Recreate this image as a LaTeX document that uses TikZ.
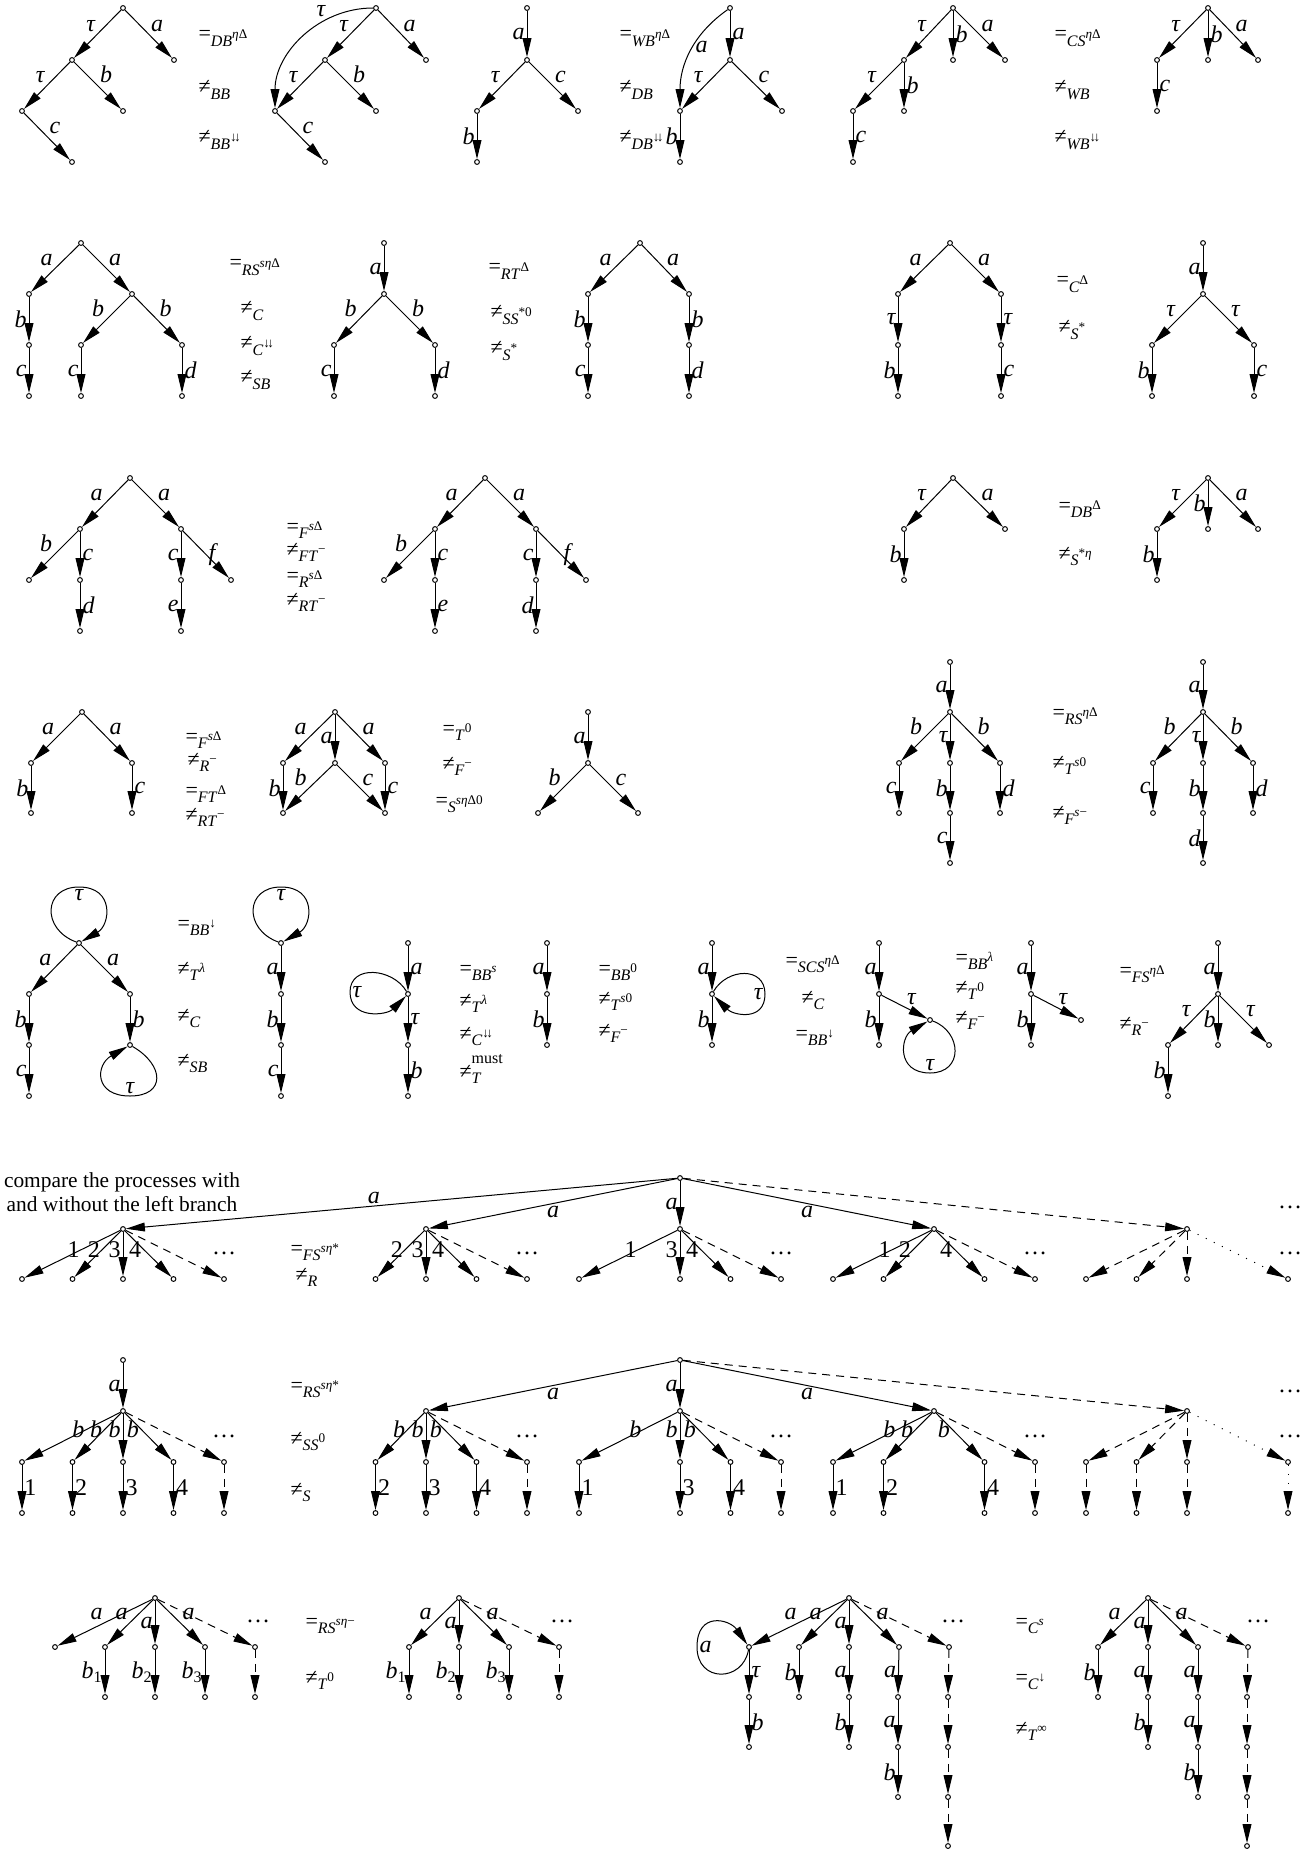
\documentclass[tikz,border=0pt]{standalone}
\usepackage{fontspec}
\setmainfont{Liberation Serif}
\usetikzlibrary{arrows.meta}

\newcommand{\rsub}[1]{\raisebox{-0.55ex}{\fontsize{8}{9}\selectfont #1}}
\newcommand{\rsup}[1]{\raisebox{1.05ex}{\fontsize{6.6}{7}\selectfont #1}}
\newcommand{\req}[2]{=\rsub{\textit{#1}\rsup{#2}}}
\newcommand{\rne}[2]{≠\rsub{\textit{#1}\rsup{#2}}}
\newcommand{\da}{↓}
\newcommand{\dv}{↓\kern-0.2em↓}

\begin{document}
\begin{tikzpicture}[x=0.5pt, y=-0.5pt, line width=0.5pt,
    every node/.append style={font=\fontsize{12}{14}\selectfont},
    st/.style={circle, draw, fill=white, inner sep=0pt, minimum size=2.4pt},
    tr/.style={-{Triangle[length=9.5pt, width=4.4pt]}},
    lb/.style={font=\fontsize{12}{14}\selectfont\itshape, inner sep=1pt},
    num/.style={inner sep=1pt},
    rel/.style={anchor=base west, inner sep=0pt, yshift=-1pt,
      font=\fontsize{11}{13}\selectfont},
    dsh/.style={dash pattern=on 4pt off 3pt},
    dtd/.style={dash pattern=on 0.5pt off 4pt}]
\useasboundingbox (0,0) rectangle (1310,1856);

% ---- row 1 ----
\node[st] (aa0) at (123,8) {};
\node[st] (aa1) at (72,60) {};
\node[st] (aa2) at (174,60) {};
\node[st] (aa3) at (22,111) {};
\node[st] (aa4) at (123,111) {};
\node[st] (aa5) at (72,162) {};
\draw[tr] (aa0) -- node[lb, above left] {τ} (aa1);
\draw[tr] (aa0) -- node[lb, above right] {a} (aa2);
\draw[tr] (aa1) -- node[lb, above left] {τ} (aa3);
\draw[tr] (aa1) -- node[lb, above right] {b} (aa4);
\draw[tr] (aa3) -- node[lb, above right] {c} (aa5);
\node[rel] (ra1) at (198,39) {\req{DB}{\textit{η}Δ}};
\node[rel] (ra2) at (198,92) {\rne{BB}{}};
\node[rel] (ra3) at (198,142) {\rne{BB}{\dv}};

\node[st] (ab0) at (376,8) {};
\node[st] (ab1) at (325,60) {};
\node[st] (ab2) at (426,60) {};
\node[st] (ab3) at (275,111) {};
\node[st] (ab4) at (376,111) {};
\node[st] (ab5) at (325,162) {};
\draw[tr] (ab0) -- node[lb, above left] {τ} (ab1);
\draw[tr] (ab0) -- node[lb, above right] {a} (ab2);
\draw[tr] (ab1) -- node[lb, above left] {τ} (ab3);
\draw[tr] (ab1) -- node[lb, above right] {b} (ab4);
\draw[tr] (ab3) -- node[lb, above right] {c} (ab5);
\draw[tr] (ab0) to[out=180, in=90] node[lb, pos=.3, above left] {τ} (ab3);

\node[st] (ac0) at (527,8) {};
\node[st] (ac1) at (527,60) {};
\node[st] (ac2) at (477,111) {};
\node[st] (ac3) at (578,111) {};
\node[st] (ac4) at (477,162) {};
\draw[tr] (ac0) -- node[lb, left] {a} (ac1);
\draw[tr] (ac1) -- node[lb, above left] {τ} (ac2);
\draw[tr] (ac1) -- node[lb, above right] {c} (ac3);
\draw[tr] (ac2) -- node[lb, left] {b} (ac4);
\node[rel] (rb1) at (619,39) {\req{WB}{\textit{η}Δ}};
\node[rel] (rb2) at (619,92) {\rne{DB}{}};
\node[rel] (rb3) at (619,142) {\rne{DB}{\dv}};

\node[st] (ad0) at (730,8) {};
\node[st] (ad1) at (730,60) {};
\node[st] (ad2) at (680,111) {};
\node[st] (ad3) at (782,111) {};
\node[st] (ad4) at (680,162) {};
\draw[tr] (ad0) -- node[lb, right] {a} (ad1);
\draw[tr] (ad1) -- node[lb, above left] {τ} (ad2);
\draw[tr] (ad1) -- node[lb, above right] {c} (ad3);
\draw[tr] (ad2) -- node[lb, left] {b} (ad4);
\draw[tr] (ad0) to[out=215, in=90] node[lb, pos=.45, right] {a} (ad2);

\node[st] (ae0) at (953,8) {};
\node[st] (ae1) at (904,60) {};
\node[st] (ae2) at (953,60) {};
\node[st] (ae3) at (1005,60) {};
\node[st] (ae4) at (853,111) {};
\node[st] (ae5) at (904,111) {};
\node[st] (ae6) at (853,162) {};
\draw[tr] (ae0) -- node[lb, above left] {τ} (ae1);
\draw[tr] (ae0) -- node[lb, right] {b} (ae2);
\draw[tr] (ae0) -- node[lb, above right] {a} (ae3);
\draw[tr] (ae1) -- node[lb, above left] {τ} (ae4);
\draw[tr] (ae1) -- node[lb, right] {b} (ae5);
\draw[tr] (ae4) -- node[lb, right] {c} (ae6);
\node[rel] (rc1) at (1054,39) {\req{CS}{\textit{η}Δ}};
\node[rel] (rc2) at (1054,92) {\rne{WB}{}};
\node[rel] (rc3) at (1054,142) {\rne{WB}{\dv}};

\node[st] (af0) at (1208,8) {};
\node[st] (af1) at (1157,60) {};
\node[st] (af2) at (1208,60) {};
\node[st] (af3) at (1258,60) {};
\node[st] (af4) at (1157,111) {};
\draw[tr] (af0) -- node[lb, above left] {τ} (af1);
\draw[tr] (af0) -- node[lb, right] {b} (af2);
\draw[tr] (af0) -- node[lb, above right] {a} (af3);
\draw[tr] (af1) -- node[lb, right] {c} (af4);

% ---- row 2 ----
\node[st] (ba0) at (81,243) {};
\node[st] (ba1) at (29,294) {};
\node[st] (ba2) at (132,294) {};
\node[st] (ba3) at (29,345) {};
\node[st] (ba4) at (81,345) {};
\node[st] (ba5) at (182,345) {};
\node[st] (ba6) at (29,396) {};
\node[st] (ba7) at (81,396) {};
\node[st] (ba8) at (182,396) {};
\draw[tr] (ba0) -- node[lb, above left] {a} (ba1);
\draw[tr] (ba0) -- node[lb, above right] {a} (ba2);
\draw[tr] (ba1) -- node[lb, left] {b} (ba3);
\draw[tr] (ba2) -- node[lb, above left] {b} (ba4);
\draw[tr] (ba2) -- node[lb, above right] {b} (ba5);
\draw[tr] (ba3) -- node[lb, left] {c} (ba6);
\draw[tr] (ba4) -- node[lb, left] {c} (ba7);
\draw[tr] (ba5) -- node[lb, right] {d} (ba8);
\node[rel] (rd1) at (229,268) {\req{RS}{\textit{sη}Δ}};
\node[rel] (rd2) at (240,313) {\rne{C}{}};
\node[rel] (rd3) at (240,348) {\rne{C}{\dv}};
\node[rel] (rd4) at (240,382) {\rne{SB}{}};

\node[st] (bb0) at (384,243) {};
\node[st] (bb1) at (384,294) {};
\node[st] (bb2) at (334,345) {};
\node[st] (bb3) at (435,345) {};
\node[st] (bb4) at (334,396) {};
\node[st] (bb5) at (435,396) {};
\draw[tr] (bb0) -- node[lb, left] {a} (bb1);
\draw[tr] (bb1) -- node[lb, above left] {b} (bb2);
\draw[tr] (bb1) -- node[lb, above right] {b} (bb3);
\draw[tr] (bb2) -- node[lb, left] {c} (bb4);
\draw[tr] (bb3) -- node[lb, right] {d} (bb5);
\node[rel] (re1) at (488,272) {\req{RT}{Δ}};
\node[rel] (re2) at (490,317) {\rne{SS}{*0}};
\node[rel] (re3) at (490,353) {\rne{S}{*}};

\node[st] (bc0) at (640,243) {};
\node[st] (bc1) at (588,294) {};
\node[st] (bc2) at (689,294) {};
\node[st] (bc3) at (588,345) {};
\node[st] (bc4) at (588,396) {};
\node[st] (bc5) at (689,345) {};
\node[st] (bc6) at (689,396) {};
\draw[tr] (bc0) -- node[lb, above left] {a} (bc1);
\draw[tr] (bc0) -- node[lb, above right] {a} (bc2);
\draw[tr] (bc1) -- node[lb, left] {b} (bc3);
\draw[tr] (bc3) -- node[lb, left] {c} (bc4);
\draw[tr] (bc2) -- node[lb, right] {b} (bc5);
\draw[tr] (bc5) -- node[lb, right] {d} (bc6);

\node[st] (bd0) at (950,243) {};
\node[st] (bd1) at (898,294) {};
\node[st] (bd2) at (1001,294) {};
\node[st] (bd3) at (898,345) {};
\node[st] (bd4) at (898,396) {};
\node[st] (bd5) at (1001,345) {};
\node[st] (bd6) at (1001,396) {};
\draw[tr] (bd0) -- node[lb, above left] {a} (bd1);
\draw[tr] (bd0) -- node[lb, above right] {a} (bd2);
\draw[tr] (bd1) -- node[lb, left] {τ} (bd3);
\draw[tr] (bd3) -- node[lb, left] {b} (bd4);
\draw[tr] (bd2) -- node[lb, right] {τ} (bd5);
\draw[tr] (bd5) -- node[lb, right] {c} (bd6);
\node[rel] (rf1) at (1056,285) {\req{C}{Δ}};
\node[rel] (rf2) at (1058,332) {\rne{S}{*}};

\node[st] (be0) at (1203,243) {};
\node[st] (be1) at (1203,294) {};
\node[st] (be2) at (1152,345) {};
\node[st] (be3) at (1254,345) {};
\node[st] (be4) at (1152,396) {};
\node[st] (be5) at (1254,396) {};
\draw[tr] (be0) -- node[lb, left] {a} (be1);
\draw[tr] (be1) -- node[lb, above left] {τ} (be2);
\draw[tr] (be1) -- node[lb, above right] {τ} (be3);
\draw[tr] (be2) -- node[lb, left] {b} (be4);
\draw[tr] (be3) -- node[lb, right] {c} (be5);

% ---- row 3 ----
\node[st] (ca0) at (130,478) {};
\node[st] (ca1) at (80,529) {};
\node[st] (ca2) at (181,529) {};
\node[st] (ca3) at (29,580) {};
\node[st] (ca4) at (80,580) {};
\node[st] (ca5) at (181,580) {};
\node[st] (ca6) at (231,580) {};
\node[st] (ca7) at (80,631) {};
\node[st] (ca8) at (181,631) {};
\draw[tr] (ca0) -- node[lb, above left] {a} (ca1);
\draw[tr] (ca0) -- node[lb, above right] {a} (ca2);
\draw[tr] (ca1) -- node[lb, above left] {b} (ca3);
\draw[tr] (ca1) -- node[lb, right] {c} (ca4);
\draw[tr] (ca2) -- node[lb, left] {c} (ca5);
\draw[tr] (ca2) -- node[lb, right] {f} (ca6);
\draw[tr] (ca4) -- node[lb, right] {d} (ca7);
\draw[tr] (ca5) -- node[lb, left] {e} (ca8);
\node[rel] (rg1) at (286,531) {\req{F}{\textit{s}Δ}};
\node[rel] (rg2) at (286,554) {\rne{FT}{−}};
\node[rel] (rg3) at (286,580) {\req{R}{\textit{s}Δ}};
\node[rel] (rg4) at (286,604) {\rne{RT}{−}};

\node[st] (cb0) at (485,478) {};
\node[st] (cb1) at (435,529) {};
\node[st] (cb2) at (536,529) {};
\node[st] (cb3) at (384,580) {};
\node[st] (cb4) at (435,580) {};
\node[st] (cb5) at (536,580) {};
\node[st] (cb6) at (586,580) {};
\node[st] (cb7) at (435,631) {};
\node[st] (cb8) at (536,631) {};
\draw[tr] (cb0) -- node[lb, above left] {a} (cb1);
\draw[tr] (cb0) -- node[lb, above right] {a} (cb2);
\draw[tr] (cb1) -- node[lb, above left] {b} (cb3);
\draw[tr] (cb1) -- node[lb, right] {c} (cb4);
\draw[tr] (cb2) -- node[lb, left] {c} (cb5);
\draw[tr] (cb2) -- node[lb, right] {f} (cb6);
\draw[tr] (cb4) -- node[lb, right] {e} (cb7);
\draw[tr] (cb5) -- node[lb, left] {d} (cb8);

\node[st] (cc0) at (953,478) {};
\node[st] (cc1) at (904,529) {};
\node[st] (cc2) at (1005,529) {};
\node[st] (cc3) at (904,580) {};
\draw[tr] (cc0) -- node[lb, above left] {τ} (cc1);
\draw[tr] (cc0) -- node[lb, above right] {a} (cc2);
\draw[tr] (cc1) -- node[lb, left] {b} (cc3);
\node[rel] (rh1) at (1058,510) {\req{DB}{Δ}};
\node[rel] (rh2) at (1058,558) {\rne{S}{*\textit{η}}};

\node[st] (cd0) at (1208,478) {};
\node[st] (cd1) at (1157,529) {};
\node[st] (cd2) at (1208,529) {};
\node[st] (cd3) at (1258,529) {};
\node[st] (cd4) at (1157,580) {};
\draw[tr] (cd0) -- node[lb, above left] {τ} (cd1);
\draw[tr] (cd0) -- node[lb, left] {b} (cd2);
\draw[tr] (cd0) -- node[lb, above right] {a} (cd3);
\draw[tr] (cd1) -- node[lb, left] {b} (cd4);

% ---- row 4 ----
\node[st] (da0) at (82,712) {};
\node[st] (da1) at (31,763) {};
\node[st] (da2) at (132,763) {};
\node[st] (da3) at (31,813) {};
\node[st] (da4) at (132,813) {};
\draw[tr] (da0) -- node[lb, above left] {a} (da1);
\draw[tr] (da0) -- node[lb, above right] {a} (da2);
\draw[tr] (da1) -- node[lb, left] {b} (da3);
\draw[tr] (da2) -- node[lb, right] {c} (da4);
\node[rel] (ri1) at (185,741) {\req{F}{\textit{s}Δ}};
\node[rel] (ri2) at (187,764) {\rne{R}{−}};
\node[rel] (ri3) at (185,795) {\req{FT}{Δ}};
\node[rel] (ri4) at (185,819) {\rne{RT}{−}};

\node[st] (db0) at (335,712) {};
\node[st] (db1) at (283,763) {};
\node[st] (db2) at (335,763) {};
\node[st] (db3) at (385,763) {};
\node[st] (db4) at (283,813) {};
\node[st] (db5) at (385,813) {};
\draw[tr] (db0) -- node[lb, above left] {a} (db1);
\draw[tr] (db0) -- node[lb, left] {a} (db2);
\draw[tr] (db0) -- node[lb, above right] {a} (db3);
\draw[tr] (db1) -- node[lb, left] {b} (db4);
\draw[tr] (db2) -- node[lb, above left] {b} (db4);
\draw[tr] (db2) -- node[lb, above right] {c} (db5);
\draw[tr] (db3) -- node[lb, right] {c} (db5);
\node[rel] (rj1) at (442,733) {\req{T}{0}};
\node[rel] (rj2) at (442,768) {\rne{F}{−}};
\node[rel] (rj3) at (435,805) {\req{S}{\textit{sη}Δ0}};

\node[st] (dc0) at (588,712) {};
\node[st] (dc1) at (588,763) {};
\node[st] (dc2) at (538,813) {};
\node[st] (dc3) at (638,813) {};
\draw[tr] (dc0) -- node[lb, left] {a} (dc1);
\draw[tr] (dc1) -- node[lb, above left] {b} (dc2);
\draw[tr] (dc1) -- node[lb, above right] {c} (dc3);

\node[st] (dd0) at (950,662) {};
\node[st] (dd1) at (950,712) {};
\node[st] (dd2) at (899,763) {};
\node[st] (dd3) at (950,763) {};
\node[st] (dd4) at (1000,763) {};
\node[st] (dd5) at (899,813) {};
\node[st] (dd6) at (950,813) {};
\node[st] (dd7) at (1000,813) {};
\node[st] (dd8) at (950,863) {};
\draw[tr] (dd0) -- node[lb, left] {a} (dd1);
\draw[tr] (dd1) -- node[lb, above left] {b} (dd2);
\draw[tr] (dd1) -- node[lb, left] {τ} (dd3);
\draw[tr] (dd1) -- node[lb, above right] {b} (dd4);
\draw[tr] (dd2) -- node[lb, left] {c} (dd5);
\draw[tr] (dd3) -- node[lb, left] {b} (dd6);
\draw[tr] (dd4) -- node[lb, right] {d} (dd7);
\draw[tr] (dd6) -- node[lb, left] {c} (dd8);
\node[rel] (rk1) at (1052,717) {\req{RS}{\textit{η}Δ}};
\node[rel] (rk2) at (1052,767) {\rne{T}{\textit{s}0}};
\node[rel] (rk3) at (1052,817) {\rne{F}{\textit{s}−}};

\node[st] (de0) at (1203,662) {};
\node[st] (de1) at (1203,712) {};
\node[st] (de2) at (1153,763) {};
\node[st] (de3) at (1203,763) {};
\node[st] (de4) at (1253,763) {};
\node[st] (de5) at (1153,813) {};
\node[st] (de6) at (1203,813) {};
\node[st] (de7) at (1253,813) {};
\node[st] (de8) at (1203,863) {};
\draw[tr] (de0) -- node[lb, left] {a} (de1);
\draw[tr] (de1) -- node[lb, above left] {b} (de2);
\draw[tr] (de1) -- node[lb, left] {τ} (de3);
\draw[tr] (de1) -- node[lb, above right] {b} (de4);
\draw[tr] (de2) -- node[lb, left] {c} (de5);
\draw[tr] (de3) -- node[lb, left] {b} (de6);
\draw[tr] (de4) -- node[lb, right] {d} (de7);
\draw[tr] (de6) -- node[lb, left] {d} (de8);

% ---- row 5 ----
\node[st] (ea0) at (79,943) {};
\coordinate (ea0t) at (79,887);
\node[st] (ea1) at (29,994) {};
\node[st] (ea2) at (130,994) {};
\node[st] (ea3) at (29,1045) {};
\node[st] (ea4) at (130,1045) {};
\coordinate (ea4b) at (130,1096);
\node[st] (ea5) at (29,1096) {};
\draw[tr] (ea0) .. controls +(200:40) and +(180:36) .. (ea0t) node[lb, below] {τ}
  .. controls +(0:36) and +(330:36) .. (ea0);
\draw[tr] (ea0) -- node[lb, above left] {a} (ea1);
\draw[tr] (ea0) -- node[lb, above right] {a} (ea2);
\draw[tr] (ea1) -- node[lb, left] {b} (ea3);
\draw[tr] (ea2) -- node[lb, right] {b} (ea4);
\draw[tr] (ea3) -- node[lb, left] {c} (ea5);
\draw[tr] (ea4) .. controls +(30:40) and +(0:36) .. (ea4b) node[lb, above] {τ}
  .. controls +(180:36) and +(150:40) .. (ea4);
\node[rel] (rl1) at (177,928) {\req{BB}{\da}};
\node[rel] (rl2) at (177,973) {\rne{T}{\textit{λ}}};
\node[rel] (rl3) at (177,1020) {\rne{C}{}};
\node[rel] (rl4) at (177,1065) {\rne{SB}{}};

\node[st] (eb0) at (281,943) {};
\coordinate (eb0t) at (281,887);
\node[st] (eb1) at (281,994) {};
\node[st] (eb2) at (281,1045) {};
\node[st] (eb3) at (281,1096) {};
\draw[tr] (eb0) .. controls +(200:40) and +(180:36) .. (eb0t) node[lb, below] {τ}
  .. controls +(0:36) and +(330:36) .. (eb0);
\draw[tr] (eb0) -- node[lb, left] {a} (eb1);
\draw[tr] (eb1) -- node[lb, left] {b} (eb2);
\draw[tr] (eb2) -- node[lb, left] {c} (eb3);

\node[st] (ec0) at (408,943) {};
\node[st] (ec1) at (408,994) {};
\coordinate (ec1l) at (350,992);
\node[st] (ec2) at (408,1045) {};
\node[st] (ec3) at (408,1096) {};
\draw[tr] (ec0) -- node[lb, right] {a} (ec1);
\draw[tr] (ec1) .. controls +(240:30) and +(270:28) .. (ec1l) node[lb, right] {τ}
  .. controls +(90:28) and +(135:30) .. (ec1);
\draw[tr] (ec1) -- node[lb, right] {τ} (ec2);
\draw[tr] (ec2) -- node[lb, right] {b} (ec3);
\node[rel] (rm1) at (459,973) {\req{BB}{\textit{s}}};
\node[rel] (rm2) at (459,1005) {\rne{T}{\textit{λ}}};
\node[rel] (rm3) at (459,1038) {\rne{C}{\dv}};
\node[rel] (rm4) at (459,1076)
  {≠\rlap{\raisebox{1.4ex}{\fontsize{8}{9}\selectfont must}}\rsub{\textit{T}}};

\node[st] (ed0) at (547,943) {};
\node[st] (ed1) at (547,994) {};
\node[st] (ed2) at (547,1045) {};
\draw[tr] (ed0) -- node[lb, left] {a} (ed1);
\draw[tr] (ed1) -- node[lb, left] {b} (ed2);
\node[rel] (rn1) at (598,973) {\req{BB}{0}};
\node[rel] (rn2) at (598,1003) {\rne{T}{\textit{s}0}};
\node[rel] (rn3) at (598,1035) {\rne{F}{−}};

\node[st] (ee0) at (712,943) {};
\node[st] (ee1) at (712,994) {};
\coordinate (ee1r) at (765,994);
\node[st] (ee2) at (712,1045) {};
\draw[tr] (ee0) -- node[lb, left] {a} (ee1);
\draw[tr] (ee1) .. controls +(300:30) and +(270:28) .. (ee1r) node[lb, left] {τ}
  .. controls +(90:28) and +(45:30) .. (ee1);
\draw[tr] (ee1) -- node[lb, left] {b} (ee2);
\node[rel] (ro1) at (785,965) {\req{SCS}{\textit{η}Δ}};
\node[rel] (ro2) at (801,1002) {\rne{C}{}};
\node[rel] (ro3) at (795,1038) {\req{BB}{\da}};

\node[st] (ef0) at (879,943) {};
\node[st] (ef1) at (879,994) {};
\node[st] (ef2) at (879,1045) {};
\node[st] (ef3) at (930,1020) {};
\coordinate (ef3b) at (930,1073);
\draw[tr] (ef0) -- node[lb, left] {a} (ef1);
\draw[tr] (ef1) -- node[lb, left] {b} (ef2);
\draw[tr] (ef1) -- node[lb, above right] {τ} (ef3);
\draw[tr] (ef3) .. controls +(20:34) and +(0:34) .. (ef3b) node[lb, above] {τ}
  .. controls +(180:34) and +(150:34) .. (ef3);
\node[rel] (rp1) at (955,962) {\req{BB}{\textit{λ}}};
\node[rel] (rp2) at (955,992) {\rne{T}{0}};
\node[rel] (rp3) at (955,1022) {\rne{F}{−}};

\node[st] (eg0) at (1031,943) {};
\node[st] (eg1) at (1031,994) {};
\node[st] (eg2) at (1031,1045) {};
\node[st] (eg3) at (1081,1020) {};
\draw[tr] (eg0) -- node[lb, left] {a} (eg1);
\draw[tr] (eg1) -- node[lb, left] {b} (eg2);
\draw[tr] (eg1) -- node[lb, above right] {τ} (eg3);
\node[rel] (rq1) at (1119,975) {\req{FS}{\textit{η}Δ}};
\node[rel] (rq2) at (1119,1028) {\rne{R}{−}};

\node[st] (eh0) at (1218,943) {};
\node[st] (eh1) at (1218,994) {};
\node[st] (eh2) at (1168,1045) {};
\node[st] (eh3) at (1218,1045) {};
\node[st] (eh4) at (1269,1045) {};
\node[st] (eh5) at (1168,1096) {};
\draw[tr] (eh0) -- node[lb, left] {a} (eh1);
\draw[tr] (eh1) -- node[lb, above left] {τ} (eh2);
\draw[tr] (eh1) -- node[lb, left] {b} (eh3);
\draw[tr] (eh1) -- node[lb, above right] {τ} (eh4);
\draw[tr] (eh2) -- node[lb, left] {b} (eh5);

% ---- row 6 ----
\node[align=center, font=\fontsize{10.7}{12}\selectfont] (cap) at (122,1192)
  {compare the processes with\\and without the left branch};
\node[st] (f0) at (680,1178) {};
\foreach \g/\x in {1/123, 2/426, 3/680, 4/934, 5/1187}
  \node[st] (f\g) at (\x,1229) {};
\draw[tr] (f0) -- node[lb, above, pos=.55] {a} (f1);
\draw[tr] (f0) -- node[lb, below] {a} (f2);
\draw[tr] (f0) -- node[lb, left] {a} (f3);
\draw[tr] (f0) -- node[lb, below] {a} (f4);
\draw[tr, dsh] (f0) -- (f5);
\foreach \g/\x/\ks in {1/123/{1,2,3,4}, 2/426/{2,3,4}, 3/680/{1,3,4}, 4/934/{1,2,4}} {
  \foreach \k in \ks {
    \node[st] (f\g l\k) at ({\x+50.5*(\k-3)},1279) {};
    \draw[tr] (f\g) -- node[num, left, pos=.4] {\k} (f\g l\k);
  }
  \node[st] (f\g l5) at ({\x+101},1279) {};
  \draw[tr, dsh] (f\g) -- (f\g l5);
  \node (f\g d) at ({\x+101},1253) {\dots};
}
\foreach \k/\dx in {1/-101, 2/-50.5, 3/0} {
  \node[st] (f5l\k) at ({1187+\dx},1279) {};
  \draw[tr, dsh] (f5) -- (f5l\k);
}
\node[st] (f5l5) at (1288,1279) {};
\draw[tr, dtd] (f5) -- (f5l5);
\node (f5d) at (1290,1253) {\dots};
\node (f0d) at (1290,1207) {\dots};
\node[rel] (rr1) at (290,1253) {\req{FS}{\textit{sη}*}};
\node[rel] (rr2) at (295,1279) {\rne{R}{}};

% ---- row 7 ----
\node[st] (ga0) at (123,1360) {};
\node[st] (ga1) at (123,1411) {};
\draw[tr] (ga0) -- node[lb, left] {a} (ga1);
\foreach \k in {1,...,4} {
  \node[st] (ga1\k) at ({123+50.5*(\k-3)},1462) {};
  \node[st] (ga2\k) at ({123+50.5*(\k-3)},1513) {};
  \draw[tr] (ga1) -- node[lb, left, pos=.35] {b} (ga1\k);
  \draw[tr] (ga1\k) -- node[num, right] {\k} (ga2\k);
}
\node[st] (ga15) at (224,1462) {};
\node[st] (ga25) at (224,1513) {};
\draw[tr, dsh] (ga1) -- (ga15);
\draw[tr, dsh] (ga15) -- (ga25);
\node (gad) at (224,1436) {\dots};
\node[rel] (rs1) at (290,1390) {\req{RS}{\textit{sη}*}};
\node[rel] (rs2) at (290,1443) {\rne{SS}{0}};
\node[rel] (rs3) at (290,1494) {\rne{S}{}};

\node[st] (g0) at (680,1360) {};
\foreach \g/\x in {1/426, 2/680, 3/934, 4/1187}
  \node[st] (g\g) at (\x,1411) {};
\draw[tr] (g0) -- node[lb, below] {a} (g1);
\draw[tr] (g0) -- node[lb, left] {a} (g2);
\draw[tr] (g0) -- node[lb, below] {a} (g3);
\draw[tr, dsh] (g0) -- (g4);
\node (g0d) at (1290,1391) {\dots};
\foreach \g/\x/\ks in {1/426/{2,3,4}, 2/680/{1,3,4}, 3/934/{1,2,4}} {
  \foreach \k in \ks {
    \node[st] (g\g a\k) at ({\x+50.5*(\k-3)},1462) {};
    \node[st] (g\g b\k) at ({\x+50.5*(\k-3)},1513) {};
    \draw[tr] (g\g) -- node[lb, left, pos=.35] {b} (g\g a\k);
    \draw[tr] (g\g a\k) -- node[num, right] {\k} (g\g b\k);
  }
  \node[st] (g\g a5) at ({\x+101},1462) {};
  \node[st] (g\g b5) at ({\x+101},1513) {};
  \draw[tr, dsh] (g\g) -- (g\g a5);
  \draw[tr, dsh] (g\g a5) -- (g\g b5);
  \node (g\g d) at ({\x+101},1436) {\dots};
}
\foreach \k/\dx in {1/-101, 2/-50.5, 3/0} {
  \node[st] (g4a\k) at ({1187+\dx},1462) {};
  \node[st] (g4b\k) at ({1187+\dx},1513) {};
  \draw[tr, dsh] (g4) -- (g4a\k);
  \draw[tr, dsh] (g4a\k) -- (g4b\k);
}
\node[st] (g4a5) at (1288,1462) {};
\node[st] (g4b5) at (1288,1513) {};
\draw[tr, dtd] (g4) -- (g4a5);
\draw[tr, dtd] (g4a5) -- (g4b5);
\node (g4d) at (1290,1436) {\dots};

% ---- row 8 ----
\node[st] (ha0) at (155,1598) {};
\foreach \k in {1,...,5}
  \node[st] (ha\k) at ({155+50*(\k-3)},1647) {};
\draw[tr] (ha0) -- node[lb, above left] {a} (ha1);
\draw[tr] (ha0) -- node[lb, above left] {a} (ha2);
\draw[tr] (ha0) -- node[lb, left] {a} (ha3);
\draw[tr] (ha0) -- node[lb, above right] {a} (ha4);
\draw[tr, dsh] (ha0) -- (ha5);
\foreach \k/\i in {2/1, 3/2, 4/3} {
  \node[st] (hal\k) at ({155+50*(\k-3)},1697) {};
  \draw[tr] (ha\k) -- node[lb, left] {b\textsubscript{\upshape\i}} (hal\k);
}
\node[st] (hal5) at (255,1697) {};
\draw[tr, dsh] (ha5) -- (hal5);
\node (had) at (258,1621) {\dots};
\node[rel] (rt1) at (305,1626) {\req{RS}{\textit{sη}−}};
\node[rel] (rt2) at (305,1682) {\rne{T}{0}};

\node[st] (hb0) at (459,1598) {};
\foreach \k in {1,...,4}
  \node[st] (hb\k) at ({459+50*(\k-2)},1647) {};
\draw[tr] (hb0) -- node[lb, above left] {a} (hb1);
\draw[tr] (hb0) -- node[lb, left] {a} (hb2);
\draw[tr] (hb0) -- node[lb, above right] {a} (hb3);
\draw[tr, dsh] (hb0) -- (hb4);
\foreach \k in {1,2,3} {
  \node[st] (hbl\k) at ({459+50*(\k-2)},1697) {};
  \draw[tr] (hb\k) -- node[lb, left] {b\textsubscript{\upshape\k}} (hbl\k);
}
\node[st] (hbl4) at (559,1697) {};
\draw[tr, dsh] (hb4) -- (hbl4);
\node (hbd) at (562,1621) {\dots};

\node[st] (hc0) at (849,1598) {};
\foreach \k in {1,...,5}
  \node[st] (hc\k) at ({849+50*(\k-3)},1647) {};
\coordinate (hc1l) at (697,1647);
\draw[tr] (hc0) -- node[lb, above left] {a} (hc1);
\draw[tr] (hc0) -- node[lb, above left] {a} (hc2);
\draw[tr] (hc0) -- node[lb, left] {a} (hc3);
\draw[tr] (hc0) -- node[lb, above right] {a} (hc4);
\draw[tr, dsh] (hc0) -- (hc5);
\draw[tr] (hc1) .. controls +(100:36) and +(90:36) .. (hc1l) node[lb, right] {a}
  .. controls +(270:36) and +(235:34) .. (hc1);
\node[st] (hc1a) at (749,1697) {};
\node[st] (hc1b) at (749,1747) {};
\draw[tr] (hc1) -- node[lb, right] {τ} (hc1a);
\draw[tr] (hc1a) -- node[lb, right] {b} (hc1b);
\node[st] (hc2a) at (799,1697) {};
\draw[tr] (hc2) -- node[lb, left] {b} (hc2a);
\node[st] (hc3a) at (849,1697) {};
\node[st] (hc3b) at (849,1747) {};
\draw[tr] (hc3) -- node[lb, left] {a} (hc3a);
\draw[tr] (hc3a) -- node[lb, left] {b} (hc3b);
\node[st] (hc4a) at (898,1697) {};
\node[st] (hc4b) at (898,1747) {};
\node[st] (hc4c) at (898,1797) {};
\draw[tr] (hc4) -- node[lb, left] {a} (hc4a);
\draw[tr] (hc4a) -- node[lb, left] {a} (hc4b);
\draw[tr] (hc4b) -- node[lb, left] {b} (hc4c);
\node[st] (hc5a) at (948,1697) {};
\node[st] (hc5b) at (948,1747) {};
\node[st] (hc5c) at (948,1797) {};
\node[st] (hc5d) at (948,1846) {};
\draw[tr, dsh] (hc5) -- (hc5a);
\draw[tr, dsh] (hc5a) -- (hc5b);
\draw[tr, dsh] (hc5b) -- (hc5c);
\draw[tr, dsh] (hc5c) -- (hc5d);
\node (hcd) at (953,1621) {\dots};
\node[rel] (ru1) at (1015,1626) {\req{C}{\textit{s}}};
\node[rel] (ru2) at (1015,1682) {\req{C}{\da}};
\node[rel] (ru3) at (1015,1733) {\rne{T}{∞}};

\node[st] (hd0) at (1148,1598) {};
\foreach \k in {1,...,4}
  \node[st] (hd\k) at ({1148+50*(\k-2)},1647) {};
\draw[tr] (hd0) -- node[lb, above left] {a} (hd1);
\draw[tr] (hd0) -- node[lb, left] {a} (hd2);
\draw[tr] (hd0) -- node[lb, above right] {a} (hd3);
\draw[tr, dsh] (hd0) -- (hd4);
\node[st] (hd1a) at (1098,1697) {};
\draw[tr] (hd1) -- node[lb, left] {b} (hd1a);
\node[st] (hd2a) at (1148,1697) {};
\node[st] (hd2b) at (1148,1747) {};
\draw[tr] (hd2) -- node[lb, left] {a} (hd2a);
\draw[tr] (hd2a) -- node[lb, left] {b} (hd2b);
\node[st] (hd3a) at (1198,1697) {};
\node[st] (hd3b) at (1198,1747) {};
\node[st] (hd3c) at (1198,1797) {};
\draw[tr] (hd3) -- node[lb, left] {a} (hd3a);
\draw[tr] (hd3a) -- node[lb, left] {a} (hd3b);
\draw[tr] (hd3b) -- node[lb, left] {b} (hd3c);
\node[st] (hd4a) at (1247,1697) {};
\node[st] (hd4b) at (1247,1747) {};
\node[st] (hd4c) at (1247,1797) {};
\node[st] (hd4d) at (1247,1846) {};
\draw[tr, dsh] (hd4) -- (hd4a);
\draw[tr, dsh] (hd4a) -- (hd4b);
\draw[tr, dsh] (hd4b) -- (hd4c);
\draw[tr, dsh] (hd4c) -- (hd4d);
\node (hdd) at (1258,1621) {\dots};
\end{tikzpicture}
\end{document}
